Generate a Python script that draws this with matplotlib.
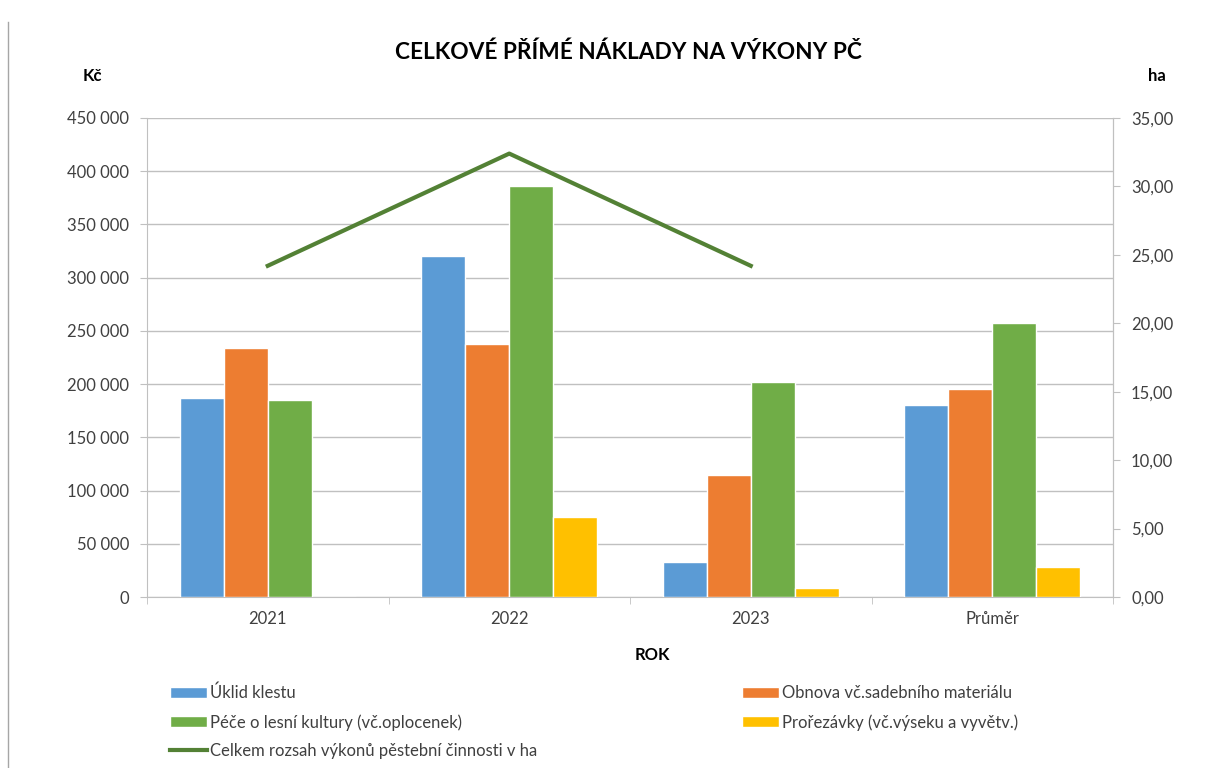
import matplotlib
matplotlib.use('Agg')
import numpy as np
import matplotlib.pyplot as plt
from matplotlib.ticker import FuncFormatter, FixedLocator
from matplotlib.lines import Line2D

plt.rcParams['font.family'] = ['Lato', 'DejaVu Sans']

# data
roky = ["2021", "2022", "2023", "Průměr"]
uklid = [187000, 320000, 33000, 180000]
obnova = [234000, 238000, 115000, 195500]
pece = [185000, 386000, 202000, 257700]
prorezavky = [0, 75000, 8500, 27800]
rozsah_ha = [24.2, 32.4, 24.2]

nazvy = ["Úklid klestu", "Obnova vč.sadebního materiálu",
         "Péče o lesní kultury (vč.oplocenek)", "Prořezávky (vč.výseku a vyvětv.)"]
nazev_linie = "Celkem rozsah výkonů pěstební činnosti v ha"
barvy = ["#5B9BD5", "#ED7D31", "#70AD47", "#FFC000"]
grid_c = "#c0c0c0"
text_c = "#404040"

fig = plt.figure(figsize=(12.05, 7.68), dpi=100)
ax = fig.add_axes([147/1205, 1-597/768, (1113-147)/1205, (597-118)/768])

x = np.arange(len(roky))
w = 1/5.5
handles = []
for k, vals in enumerate([uklid, obnova, pece, prorezavky]):
    b = ax.bar(x + (k-1.5)*w, vals, w, color=barvy[k], edgecolor='white', linewidth=1, zorder=3)
    handles.append(b)

ax.set_xlim(-0.5, 3.5)
ax.set_ylim(0, 450000)
ax.set_yticks(np.arange(0, 450001, 50000))
ax.yaxis.set_major_formatter(FuncFormatter(lambda v, p: "{:,.0f}".format(v).replace(",", " ")))
ax.set_xticks(x)
ax.set_xticklabels(roky)
ax.xaxis.set_minor_locator(FixedLocator(np.arange(-0.5, 3.6, 1)))
ax.tick_params(axis='x', which='major', length=0, pad=10, labelsize=12, labelcolor=text_c)
ax.tick_params(axis='x', which='minor', length=5, color=grid_c)
ax.tick_params(axis='y', length=5, color=grid_c, labelsize=12, labelcolor=text_c, pad=8)
ax.grid(axis='y', color=grid_c, linewidth=1, zorder=0)
ax.set_axisbelow(True)
ax.spines['top'].set_visible(False)
for s in ['left', 'bottom', 'right']:
    ax.spines[s].set_color(grid_c)

ax2 = ax.twinx()
ax2.set_ylim(0, 35)
ax2.set_yticks(np.arange(0, 35.1, 5))
ax2.yaxis.set_major_formatter(FuncFormatter(lambda v, p: "{:.2f}".format(v).replace(".", ",")))
ax2.tick_params(axis='y', length=5, color=grid_c, labelsize=12, labelcolor=text_c, pad=8)
for s in ['top', 'left', 'bottom']:
    ax2.spines[s].set_visible(False)
ax2.spines['right'].set_color(grid_c)
ln, = ax2.plot(x[:len(rozsah_ha)], rozsah_ha, color="#538135", linewidth=3, zorder=5)

fig.text(628/1205, 1-52/768, "CELKOVÉ PŘÍMÉ NÁKLADY NA VÝKONY PČ", ha='center', va='center',
         fontsize=16.3, fontweight='bold', color='black')
fig.text(92/1205, 1-76/768, "Kč", ha='center', va='center', fontsize=12, fontweight='bold')
fig.text(1157/1205, 1-76/768, "ha", ha='center', va='center', fontsize=12, fontweight='bold')
fig.text(652/1205, 1-655/768, "ROK", ha='center', va='center', fontsize=12, fontweight='bold')

leg_h = [handles[0], handles[2], Line2D([], [], color="#538135", linewidth=3), handles[1], handles[3]]
leg_l = [nazvy[0], nazvy[2], nazev_linie, nazvy[1], nazvy[3]]
fig.legend(leg_h, leg_l, ncol=2, loc='upper left', bbox_to_anchor=(155/1205, 1-670/768),
           frameon=False, fontsize=12, handlelength=2.2, handleheight=0.6, handletextpad=0.2,
           columnspacing=12.3, labelspacing=0.75, labelcolor=text_c)

fig.add_artist(Line2D([8/1205, 8/1205], [0, 1-22/768], color='#a6a6a6', linewidth=1))

fig.savefig('out.png', dpi=100)
